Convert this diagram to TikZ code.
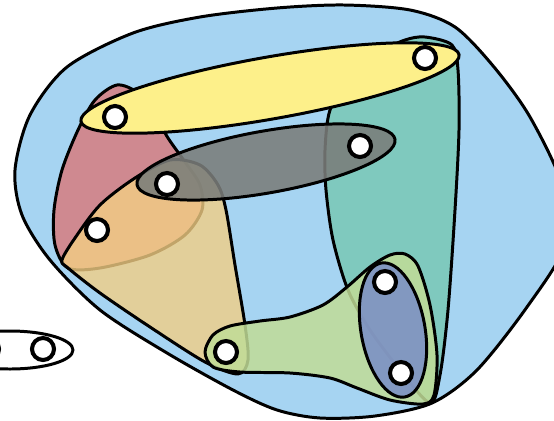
\documentclass[tikz,border=0pt]{standalone}
\definecolor{allblue}{RGB}{166,212,242}
\definecolor{redish}{RGB}{215,125,128}
\definecolor{tealish}{RGB}{121,200,181}
\definecolor{tanish}{RGB}{242,206,132}
\definecolor{greenish}{RGB}{193,220,151}
\definecolor{grayish}{RGB}{122,125,122}
\definecolor{yellowish}{RGB}{253,240,138}
\definecolor{purplish}{RGB}{121,141,199}
\begin{document}
\begin{tikzpicture}[x=0.02cm, y=-0.02cm,
    hedge/.style={draw=black, line width=1.7pt, line join=round},
    vertex/.style={circle, draw=black, fill=white, line width=2.3pt,
      minimum size=0.44cm, inner sep=0pt}]
  \useasboundingbox (0,0) rectangle (554,420);
  \clip (0,0) rectangle (554,420);

  % the hyperedge holding all but two vertices
  \draw[hedge, fill=allblue] plot[smooth cycle] coordinates {
    (15,170) (30,115) (67,67) (133,33) (200,17) (277,8) (344,5) (410,10)
    (455,27) (494,67) (530,117) (562,185) (565,245) (527,307) (477,370)
    (432,403) (375,416) (320,418) (277,410) (233,390) (167,353) (100,310)
    (50,260) (22,215)};

  % red and teal
  \draw[hedge, fill=redish, fill opacity=0.85] plot[smooth cycle] coordinates {
    (117,85) (138,93) (155,115) (168,138) (185,162) (200,185) (202,210)
    (185,235) (150,255) (100,268) (68,268) (55,245) (54,210) (62,170)
    (78,130) (95,100)};
  \draw[hedge, fill=tealish, fill opacity=0.85] plot[smooth cycle] coordinates {
    (425,37) (452,45) (458,70) (459,130) (455,210) (448,310) (440,375)
    (430,403) (400,370) (370,330) (348,290) (333,240) (326,190) (325,150)
    (330,110) (350,75) (380,52) (405,40)};

  % tan and green
  \draw[hedge, fill=tanish, fill opacity=0.8] plot[smooth cycle, tension=0.5] coordinates {
    (62,260) (75,238) (100,205) (135,178) (170,160) (200,165) (218,185)
    (226,210) (235,265) (245,325) (248,360) (238,374) (205,362) (150,327)
    (100,293) (68,268)};
  \draw[hedge, fill=greenish, fill opacity=0.85] plot[smooth cycle, tension=0.5] coordinates {
    (205,352) (213,335) (230,326) (260,321) (290,317) (323,305) (347,287)
    (370,267) (390,255) (405,254) (418,266) (430,305) (437,355) (434,395)
    (423,404) (390,400) (357,388) (330,378) (290,373) (240,372) (213,367)};

  % gray, yellow and purple
  \draw[hedge, fill=grayish, fill opacity=0.88, rotate around={10:(266,162)}]
    (266,162) ellipse [x radius=131, y radius=31];
  \draw[hedge, fill=yellowish, rotate around={10:(270,88)}]
    (270,88) ellipse [x radius=192, y radius=31];
  \draw[hedge, fill=purplish, fill opacity=0.85, rotate around={-80:(393,330)}]
    (393,330) ellipse [x radius=68, y radius=32];

  % the lonely pair
  \draw[hedge] (10,350) ellipse [x radius=63, y radius=19];

  % vertices
  \foreach \n/\x/\y in {v1/115/117, v2/425/58, v3/360/146, v4/167/184,
      v5/97/230, v6/385/282, v7/401/373, v8/226/352, v9/43/349, v10/-12/349}
    \node[vertex] (\n) at (\x,\y) {};
\end{tikzpicture}
\end{document}
